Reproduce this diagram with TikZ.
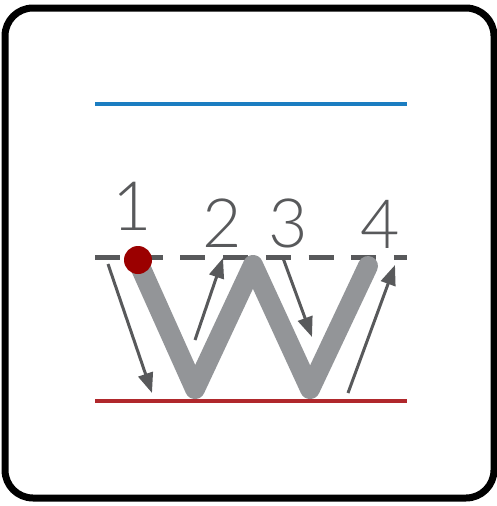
\documentclass[tikz,border=0pt]{standalone}
\usepackage{fontspec}
\newfontfamily\numfont{Lato Light}
\usetikzlibrary{arrows.meta}
\definecolor{bluel}{HTML}{1B7DC1}
\definecolor{redl}{HTML}{B0282C}
\definecolor{dgray}{HTML}{58595B}
\definecolor{wgray}{HTML}{939598}
\definecolor{dotred}{HTML}{9B0000}
\tikzset{
  guide/.style={line width=4pt},
  stroke/.style={wgray, line width=20pt, line cap=round, line join=round},
  dirarrow/.style={dgray, line width=3pt, -{Triangle[length=20pt,width=15pt]}},
  numlabel/.style={dgray, anchor=base, inner sep=0pt, font=\numfont\fontsize{68}{68}\selectfont}
}
\begin{document}
\begin{tikzpicture}[x=1pt,y=-1pt]
\useasboundingbox (0,0) rectangle (497,506);
\draw[line width=7pt, rounded corners=28pt] (5,8) rectangle (494,498);
% guide lines
\coordinate (bl) at (95,104); \coordinate (br) at (407,104);
\coordinate (dl) at (95,257); \coordinate (dr) at (407,257);
\coordinate (rl) at (95,401); \coordinate (rr) at (407,401);
\draw[guide, bluel] (bl) -- (br);
\draw[line width=5pt, dgray, dash pattern=on 25pt off 17.7pt] (dl) -- (dr);
\draw[guide, redl] (rl) -- (rr);
% W stroke
\coordinate (w1) at (139,264);
\coordinate (w2) at (195,389);
\coordinate (w3) at (253,265);
\coordinate (w4) at (310,389);
\coordinate (w5) at (368,266);
\draw[stroke] (w1) -- (w2) -- (w3) -- (w4) -- (w5);
\node[circle, fill=dotred, minimum size=28pt, inner sep=0pt] (dot) at (138,260) {};
% arrows
\coordinate (a1s) at (108,264); \coordinate (a1e) at (152,393);
\coordinate (a2s) at (195,340); \coordinate (a2e) at (223,258);
\coordinate (a3s) at (283,258); \coordinate (a3e) at (312,337);
\coordinate (a4s) at (348,393); \coordinate (a4e) at (395,265);
\draw[dirarrow] (a1s) -- (a1e);
\draw[dirarrow] (a2s) -- (a2e);
\draw[dirarrow] (a3s) -- (a3e);
\draw[dirarrow] (a4s) -- (a4e);
% numbers
\node[numlabel] (n1) at (132,230) {1};
\node[numlabel] (n2) at (222,247) {2};
\node[numlabel] (n3) at (288,247) {3};
\node[numlabel] (n4) at (380,248) {4};
\end{tikzpicture}
\end{document}
